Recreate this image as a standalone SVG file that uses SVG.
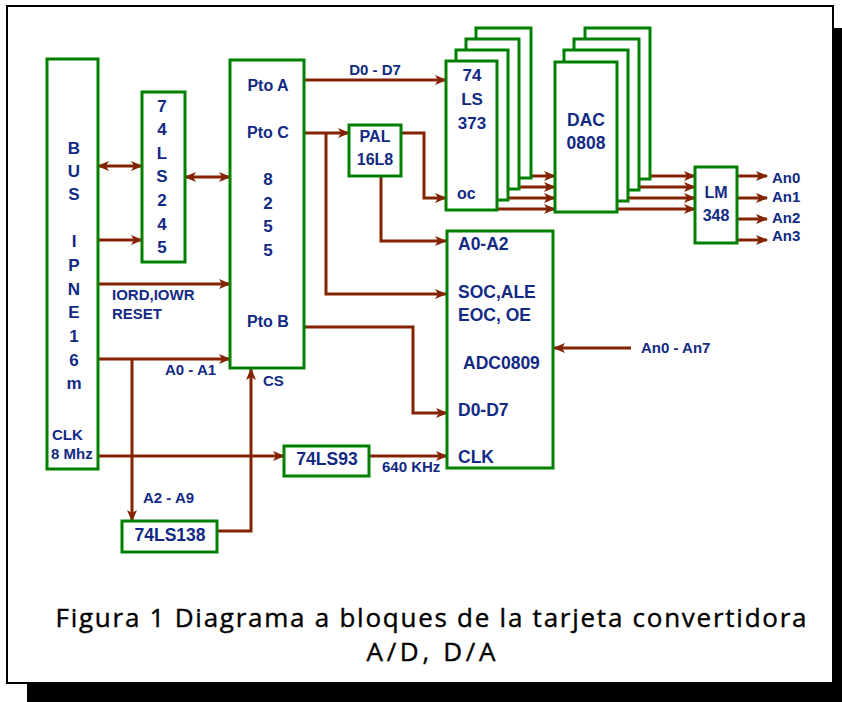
<svg xmlns="http://www.w3.org/2000/svg" width="842" height="702" viewBox="0 0 842 702">
<defs>
<style>
.box{fill:#fff;stroke:#008000;stroke-width:3}
.w{fill:none;stroke:#842300;stroke-width:3}
.a{marker-end:url(#ah)}
.b{marker-start:url(#ah);marker-end:url(#ah)}
text{font-family:"Liberation Sans",Arial,Helvetica,sans-serif;font-weight:bold;fill:#122a84}
.c{text-anchor:middle}
.s15{font-size:15px}
.s16{font-size:16px}
.s17{font-size:17px}
.s175{font-size:17.5px}
.cap{font-family:"Open Sans","DejaVu Sans",sans-serif;font-weight:normal;fill:#000;font-size:26px;text-anchor:middle;stroke:#000;stroke-width:0.4}
</style>
<marker id="ah" markerUnits="userSpaceOnUse" markerWidth="13" markerHeight="11" refX="11" refY="5" orient="auto-start-reverse">
<path d="M0,0 L12,5 L0,10 L3,5 Z" fill="#842300"/>
</marker>
</defs>
<rect x="0" y="0" width="842" height="702" fill="#fff"/>
<g id="frame">
<rect x="834" y="28" width="8" height="674" fill="#000"/>
<rect x="27" y="684" width="815" height="18" fill="#000"/>
<rect x="7" y="6" width="826" height="677" fill="#fff" stroke="#000" stroke-width="2"/>
</g>
<g id="connectors">
<path class="w a" d="M304,80 H446"/>
<path class="w a" d="M304,133 H349"/>
<path class="w a" d="M326,133 V294 H446"/>
<path class="w a" d="M401,133 H424 V198 H446"/>
<path class="w a" d="M381,176 V241 H446"/>
<path class="w b" d="M98,166 H142"/>
<path class="w b" d="M185,177 H230"/>
<path class="w a" d="M98,240 H142"/>
<path class="w a" d="M98,284 H230"/>
<path class="w a" d="M98,359 H230"/>
<path class="w a" d="M132,359 V521"/>
<path class="w a" d="M217,531 H251 V369"/>
<path class="w a" d="M98,456 H284"/>
<path class="w a" d="M369,456 H447"/>
<path class="w a" d="M304,327 H413 V413 H447"/>
<path class="w a" d="M631,348 H554"/>
<path class="w a" d="M531,176 H555"/>
<path class="w a" d="M519,187 H555"/>
<path class="w a" d="M509,198 H555"/>
<path class="w a" d="M498,209 H555"/>
<path class="w a" d="M650,176 H695"/>
<path class="w a" d="M639,187 H695"/>
<path class="w a" d="M628,198 H695"/>
<path class="w a" d="M617,209 H695"/>
<path class="w a" d="M737,176 H767"/>
<path class="w a" d="M737,198 H767"/>
<path class="w a" d="M737,219 H767"/>
<path class="w a" d="M737,240 H767"/>
</g>
<g id="bus">
<rect class="box" x="47" y="59" width="51" height="410"/>
<text class="c s17" x="74" y="154">B</text>
<text class="c s17" x="74" y="177">U</text>
<text class="c s17" x="74" y="200">S</text>
<text class="c s17" x="74" y="247">I</text>
<text class="c s17" x="74" y="271">P</text>
<text class="c s17" x="74" y="295">N</text>
<text class="c s17" x="74" y="318">E</text>
<text class="c s17" x="74" y="342">1</text>
<text class="c s17" x="74" y="366">6</text>
<text class="c s17" x="74" y="389">m</text>
<text class="s15" x="52" y="440">CLK</text>
<text class="s15" x="51" y="459">8 Mhz</text>
</g>
<g id="ls245">
<rect class="box" x="142" y="92" width="43" height="170"/>
<text class="c s17" x="162" y="112">7</text>
<text class="c s17" x="162" y="135">4</text>
<text class="c s17" x="162" y="159">L</text>
<text class="c s17" x="162" y="182">S</text>
<text class="c s17" x="162" y="206">2</text>
<text class="c s17" x="162" y="230">4</text>
<text class="c s17" x="162" y="253">5</text>
</g>
<g id="ppi8255">
<rect class="box" x="230" y="60" width="74" height="308"/>
<text class="c s16" x="268" y="91">Pto A</text>
<text class="c s16" x="268" y="138">Pto C</text>
<text class="c s17" x="268" y="185">8</text>
<text class="c s17" x="268" y="209">2</text>
<text class="c s17" x="268" y="232">5</text>
<text class="c s17" x="268" y="256">5</text>
<text class="c s16" x="268" y="327">Pto B</text>
</g>
<g id="pal">
<rect class="box" x="349" y="125" width="52" height="51"/>
<text class="c s16" x="375" y="142">PAL</text>
<text class="c s16" x="375" y="165">16L8</text>
</g>
<g id="ls373">
<rect class="box" x="476" y="28" width="55" height="150"/>
<rect class="box" x="466" y="39" width="53" height="150"/>
<rect class="box" x="456" y="50" width="52" height="150"/>
<rect class="box" x="446" y="61" width="51" height="149"/>
<text class="c s17" x="472" y="81">74</text>
<text class="c s17" x="472" y="105">LS</text>
<text class="c s17" x="472" y="129">373</text>
<text class="s16" x="457" y="199">oc</text>
</g>
<g id="dac0808">
<rect class="box" x="585" y="28" width="65" height="151"/>
<rect class="box" x="574" y="39" width="65" height="151"/>
<rect class="box" x="564" y="50" width="64" height="151"/>
<rect class="box" x="555" y="62" width="62" height="150"/>
<text class="c s175" x="586" y="126">DAC</text>
<text class="c s175" x="586" y="149">0808</text>
</g>
<g id="lm348">
<rect class="box" x="695" y="167" width="42" height="76"/>
<text class="c s16" x="716" y="198">LM</text>
<text class="c s16" x="716" y="221">348</text>
</g>
<g id="adc0809">
<rect class="box" x="447" y="231" width="106" height="237"/>
<text class="s175" x="458" y="250">A0-A2</text>
<text class="s175" x="458" y="298">SOC,ALE</text>
<text class="s175" x="458" y="321">EOC, OE</text>
<text class="s175" x="463" y="369">ADC0809</text>
<text class="s175" x="458" y="416">D0-D7</text>
<text class="s175" x="458" y="463">CLK</text>
</g>
<g id="ls138">
<rect class="box" x="122" y="521" width="95" height="31"/>
<text class="c s175" x="170" y="541">74LS138</text>
</g>
<g id="ls93">
<rect class="box" x="284" y="446" width="85" height="30"/>
<text class="c s175" x="327" y="465">74LS93</text>
</g>
<g id="labels">
<text class="c s15" x="375" y="75">D0 - D7</text>
<text class="s15" x="112" y="300">IORD,IOWR</text>
<text class="s15" x="112" y="319">RESET</text>
<text class="s15" x="165" y="375">A0 - A1</text>
<text class="s15" x="143" y="503">A2 - A9</text>
<text class="s15" x="263" y="386">CS</text>
<text class="s15" x="382" y="472">640 KHz</text>
<text class="s15" x="641" y="353">An0 - An7</text>
<text class="s15" x="772" y="183">An0</text>
<text class="s15" x="772" y="202">An1</text>
<text class="s15" x="772" y="223">An2</text>
<text class="s15" x="772" y="241">An3</text>
</g>
<g id="caption">
<text class="cap" x="431" y="627" textLength="751" lengthAdjust="spacing">Figura 1 Diagrama a bloques de la tarjeta convertidora</text>
<text class="cap" x="431" y="661" textLength="129" lengthAdjust="spacing">A/D, D/A</text>
</g>
</svg>
